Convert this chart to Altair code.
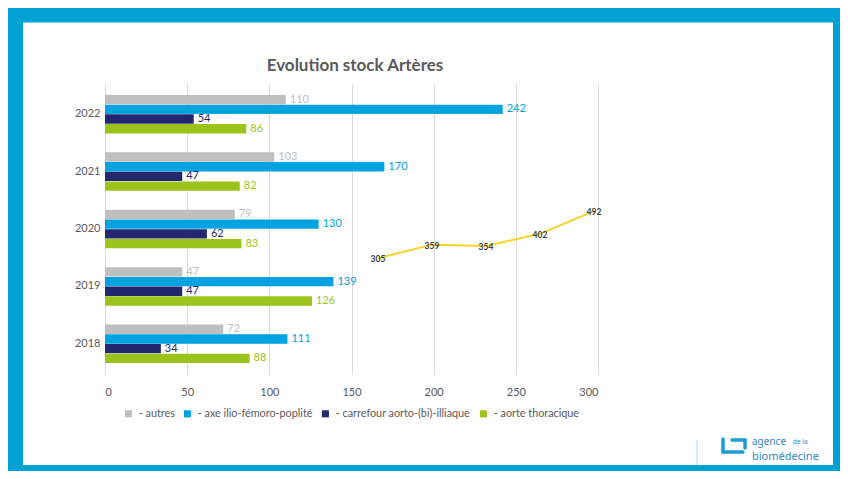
import altair as alt
import pandas as pd

# ---- data ----
years = ["2018", "2019", "2020", "2021", "2022"]
categories = ["autres", "axe ilio-fémoro-poplité", "carrefour aorto-(bi)-illiaque", "aorte thoracique"]
autres = [72, 47, 79, 103, 110]
axe = [111, 139, 130, 170, 242]
carrefour = [34, 47, 62, 47, 54]
aorte = [88, 126, 83, 82, 86]
totals = [305, 359, 354, 402, 492]
x_ticks = [0, 50, 100, 150, 200, 250, 300]
title_text = "Evolution stock Artères"

colors = ["#BFBFBF", "#00A3E0", "#23286E", "#9BC31C"]
FONT = "Lato"
GRAY = "#595959"
FRAME = "#00A1D3"
LOGO = "#1E9AD6"

rows = []
for cat, vals in zip(categories, [autres, axe, carrefour, aorte]):
    for yr, v in zip(years, vals):
        rows.append({"annee": yr, "categorie": cat, "valeur": v})
bars_df = pd.DataFrame(rows)
tot_df = pd.DataFrame({"annee": years, "total": totals})
one = pd.DataFrame({"k": [0]})

y_enc = alt.Y("annee:N", sort=years[::-1],
              scale=alt.Scale(paddingInner=0.33, paddingOuter=0.19),
              axis=alt.Axis(title=None, domain=False, ticks=False, labelPadding=5,
                            labelFontSize=11, labelColor=GRAY, labelFont=FONT))
yoff = alt.YOffset("categorie:N", sort=categories, scale=alt.Scale(paddingInner=0.04))
x_enc = alt.X("valeur:Q", scale=alt.Scale(domain=[0, 300], nice=False),
              axis=alt.Axis(title=None, values=x_ticks, domain=False, ticks=False, grid=True,
                            gridColor="#D9D9D9", gridWidth=1, labelPadding=12,
                            labelFontSize=11, labelColor=GRAY, labelFont=FONT))
color = alt.Color("categorie:N", sort=categories,
                  scale=alt.Scale(domain=categories, range=colors),
                  legend=alt.Legend(title=None, orient="none", direction="horizontal",
                                    legendX=18, legendY=324, symbolType="square",
                                    symbolSize=50, symbolStrokeWidth=0, labelFontSize=10.8,
                                    labelColor=GRAY, labelFont=FONT, labelOffset=5,
                                    columnPadding=7, labelExpr="'- ' + datum.label"))

bars = alt.Chart(bars_df).mark_bar().encode(y=y_enc, yOffset=yoff, x=x_enc, color=color)
bar_labels = alt.Chart(bars_df).mark_text(align="left", baseline="middle", dx=4,
                                          font=FONT, fontSize=11).encode(
    y=y_enc, yOffset=yoff, x=x_enc, color=color, text="valeur:Q")
bar_part = alt.layer(bars, bar_labels)

lx = alt.X("annee:O", sort=years, scale=alt.Scale(type="point", padding=0, range=[273, 489]), axis=None)
ly = alt.Y("total:Q", scale=alt.Scale(domain=[0, 600], range=[251, 100], nice=False, zero=False), axis=None)
line = alt.Chart(tot_df).mark_line(color="#F5D327", strokeWidth=2).encode(x=lx, y=ly)
line_labels = alt.Chart(tot_df).mark_text(font=FONT, fontSize=8.5, fontWeight="bold",
                                          color="#404040", baseline="middle", dy=1).encode(
    x=lx, y=ly, text="total:Q")
line_part = alt.layer(line, line_labels)

# ---- decoration: title, frame and logo ----
title = alt.Chart(one).mark_text(align="center", baseline="alphabetic", font=FONT, fontSize=17,
                                 fontWeight="bold", color=GRAY, text=title_text).encode(
    x=alt.value(250), y=alt.value(-13))
frame = alt.Chart(one).mark_rect(fillOpacity=0, stroke=FRAME, strokeWidth=15).encode(
    x=alt.value(-89.5), x2=alt.value(735.5), y=alt.value(-69), y2=alt.value(388.5))
sep = alt.Chart(one).mark_rule(color="#A9D9F0", strokeWidth=1).encode(
    x=alt.value(592), y=alt.value(356), y2=alt.value(381))


def seg(x1, x2, y1, y2):
    return alt.Chart(one).mark_rule(color=LOGO, strokeWidth=3.5, strokeCap="round").encode(
        x=alt.value(x1), x2=alt.value(x2), y=alt.value(y1), y2=alt.value(y2))


logo = [
    seg(618, 618, 355, 368),
    seg(618, 638, 368, 368),
    seg(627, 640, 356, 356),
    seg(640, 640, 356, 364),
]
t_agence = alt.Chart(one).mark_text(align="left", baseline="alphabetic", font="Noto Sans",
                                    fontSize=10, color="#2E86C8", text="agence").encode(
    x=alt.value(647), y=alt.value(361))
t_dela = alt.Chart(one).mark_text(align="left", baseline="alphabetic", font="Noto Sans",
                                  fontSize=6.5, color="#2E86C8", text="de la").encode(
    x=alt.value(688), y=alt.value(360))
t_bio = alt.Chart(one).mark_text(align="left", baseline="alphabetic", font="Noto Sans",
                                 fontSize=11, color="#2E86C8", text="biomédecine").encode(
    x=alt.value(647), y=alt.value(376))

chart = alt.layer(frame, sep, *logo, t_agence, t_dela, t_bio, title, bar_part, line_part).resolve_scale(
    x="independent", y="independent"
).properties(
    width=493, height=290,
    autosize=alt.AutoSizeParams(type="none"),
    padding={"left": 97, "top": 76, "right": 242, "bottom": 97},
).configure(background="white").configure_view(strokeWidth=0)

chart.save("out.html", embed_options={"renderer": "svg", "actions": False})
